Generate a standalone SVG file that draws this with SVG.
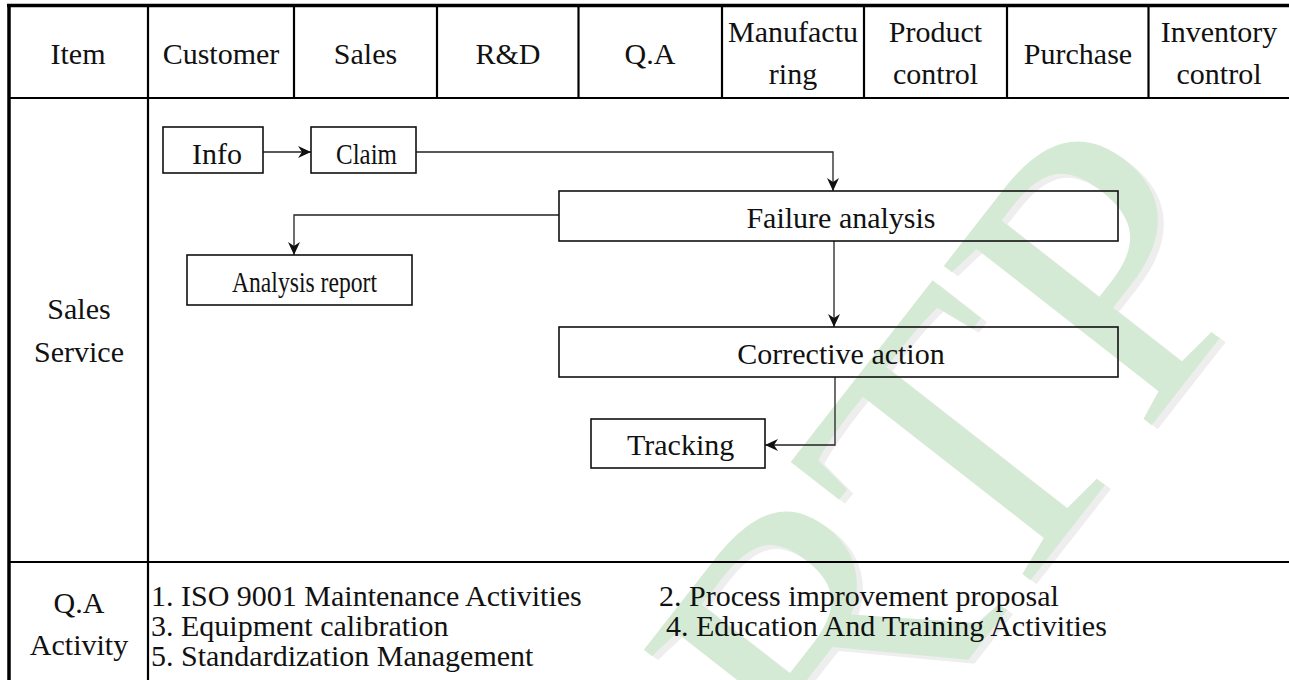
<svg xmlns="http://www.w3.org/2000/svg" width="1289" height="680" viewBox="0 0 1289 680">
<defs>
<style>
.t{font-family:"Liberation Serif","Times New Roman",serif;font-size:30px;fill:#111}
.c{text-anchor:middle}
.box{fill:none;stroke:#111;stroke-width:1.6}
.grid{stroke:#000;stroke-width:2.2;fill:none}
.outer{stroke:#000;stroke-width:3.5;fill:none}
.conn{fill:none;stroke:#222;stroke-width:1.3}
.wm{font-family:"Liberation Serif","Times New Roman",serif;font-size:400px;text-anchor:end}
</style>
<marker id="arr" markerUnits="userSpaceOnUse" markerWidth="14" markerHeight="12" refX="13" refY="6" orient="auto">
<path d="M0,0 L13,6 L0,12 L4,6 z" fill="#111"/>
</marker>
</defs>
<rect width="1289" height="680" fill="#fff"/>
<g id="watermark">
<text class="wm" fill="#eeeeee" transform="translate(1286,265) rotate(-52)">SRTP</text>
<text class="wm" fill="#d5ead5" transform="translate(1280,261) rotate(-52)">SRTP</text>
</g>
<g id="table">
<line class="outer" x1="7" y1="5.5" x2="1289" y2="5.5"/>
<line class="outer" x1="9" y1="4" x2="9" y2="680"/>
<line class="grid" x1="9" y1="98" x2="1289" y2="98"/>
<line class="grid" x1="9" y1="562" x2="1289" y2="562"/>
<line class="grid" x1="148" y1="5" x2="148" y2="680"/>
<line class="grid" x1="294" y1="5" x2="294" y2="98"/>
<line class="grid" x1="437" y1="5" x2="437" y2="98"/>
<line class="grid" x1="578.5" y1="5" x2="578.5" y2="98"/>
<line class="grid" x1="722" y1="5" x2="722" y2="98"/>
<line class="grid" x1="864" y1="5" x2="864" y2="98"/>
<line class="grid" x1="1007" y1="5" x2="1007" y2="98"/>
<line class="grid" x1="1148.5" y1="5" x2="1148.5" y2="98"/>
</g>
<g id="header">
<text class="t c" x="78" y="64">Item</text>
<text class="t c" x="221" y="64">Customer</text>
<text class="t c" x="365.5" y="64">Sales</text>
<text class="t c" x="508" y="64">R&amp;D</text>
<text class="t c" x="650" y="64">Q.A</text>
<text class="t c" x="793" y="42">Manufactu</text>
<text class="t c" x="793" y="84">ring</text>
<text class="t c" x="935.5" y="42">Product</text>
<text class="t c" x="935.5" y="84">control</text>
<text class="t c" x="1078" y="64">Purchase</text>
<text class="t c" x="1219" y="42">Inventory</text>
<text class="t c" x="1219" y="84">control</text>
</g>
<g id="row-labels">
<text class="t c" x="79" y="319">Sales</text>
<text class="t c" x="79" y="362">Service</text>
<text class="t c" x="79" y="613">Q.A</text>
<text class="t c" x="79" y="655">Activity</text>
</g>
<g id="qa-list">
<text class="t" x="151" y="606">1. ISO 9001 Maintenance Activities</text>
<text class="t" x="151" y="636">3. Equipment calibration</text>
<text class="t" x="151" y="666">5. Standardization Management</text>
<text class="t" x="659" y="606">2. Process improvement proposal</text>
<text class="t" x="666" y="636">4. Education And Training Activities</text>
</g>
<g id="connectors">
<path class="conn" d="M263,152 H311" marker-end="url(#arr)"/>
<path class="conn" d="M416,152 H833 V191" marker-end="url(#arr)"/>
<path class="conn" d="M559,215 H294 V255" marker-end="url(#arr)"/>
<path class="conn" d="M834,241 V327" marker-end="url(#arr)"/>
<path class="conn" d="M835,377 V445 H765" marker-end="url(#arr)"/>
</g>
<g id="node-info">
<rect class="box" x="163" y="127" width="100" height="46"/>
<text class="t" x="192" y="164">Info</text>
</g>
<g id="node-claim">
<rect class="box" x="311" y="127" width="105" height="46"/>
<text class="t" x="336" y="164" textLength="61" lengthAdjust="spacingAndGlyphs">Claim</text>
</g>
<g id="node-failure">
<rect class="box" x="559" y="191" width="559" height="50"/>
<text class="t c" x="841" y="228">Failure analysis</text>
</g>
<g id="node-analysis-report">
<rect class="box" x="187" y="255" width="225" height="50"/>
<text class="t" x="232" y="292" textLength="145" lengthAdjust="spacingAndGlyphs">Analysis report</text>
</g>
<g id="node-corrective">
<rect class="box" x="559" y="327" width="559" height="50"/>
<text class="t c" x="841" y="364">Corrective action</text>
</g>
<g id="node-tracking">
<rect class="box" x="591" y="419" width="174" height="49"/>
<text class="t" x="627" y="455">Tracking</text>
</g>
</svg>
